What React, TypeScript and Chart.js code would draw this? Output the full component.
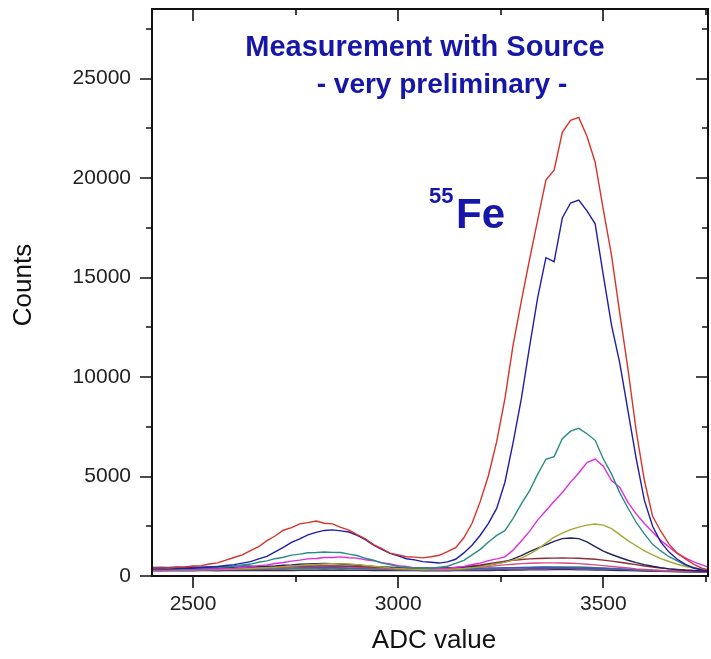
import React, { useEffect, useRef } from 'react';
import { Chart, registerables } from 'chart.js';

Chart.register(...registerables);

// ADC channel (x) values
const adc = [
  2400, 2420, 2440, 2460, 2480, 2500, 2520, 2540, 2560, 2580,
  2600, 2620, 2640, 2660, 2680, 2700, 2720, 2740, 2760, 2780,
  2800, 2820, 2840, 2860, 2880, 2900, 2920, 2940, 2960, 2980,
  3000, 3020, 3040, 3060, 3080, 3100, 3120, 3140, 3160, 3180,
  3200, 3220, 3240, 3260, 3280, 3300, 3320, 3340, 3360, 3380,
  3400, 3420, 3440, 3460, 3480, 3500, 3520, 3540, 3560, 3580,
  3600, 3620, 3640, 3660, 3680, 3700, 3720, 3740, 3760,
];

const redCounts = [
  380, 410, 390, 440, 450, 500, 520, 600, 660, 800,
  930, 1060, 1280, 1470, 1780, 2010, 2300, 2430, 2620, 2680,
  2760, 2650, 2620, 2440, 2310, 2080, 1870, 1580, 1370, 1150,
  1060, 970, 950, 910, 970, 1040, 1220, 1420, 1920, 2650,
  3750, 5050, 6750, 8900, 11600, 13800, 15900, 17900, 19900, 20400,
  22300, 22900, 23050, 22100, 20800, 18400, 16100, 13200, 10400, 7300,
  4800, 3000, 2250, 1600, 1150, 860, 590, 390, 290,
];

const blueCounts = [
  350, 370, 360, 380, 400, 390, 420, 450, 470, 530,
  570, 650, 720, 860, 990, 1210, 1440, 1690, 1870, 2070,
  2190, 2290, 2320, 2270, 2210, 2040, 1830, 1550, 1340, 1140,
  1010, 870, 810, 720, 690, 650, 710, 840, 1160, 1550,
  2050, 2650, 3400, 4700, 6700, 8900, 11500, 14000, 16000, 15800,
  18000, 18750, 18900, 18350, 17700, 15100, 12600, 10700, 8300, 5900,
  3800, 2500, 1700, 1200, 840, 590, 400, 300, 240,
];

const tealCounts = [
  330, 350, 330, 360, 350, 380, 370, 410, 420, 460,
  490, 550, 600, 690, 760, 870, 940, 1050, 1100, 1170,
  1180, 1210, 1190, 1180, 1100, 1030, 890, 790, 650, 570,
  470, 440, 390, 400, 390, 440, 490, 630, 790, 1060,
  1340, 1710, 2040, 2280, 2900, 3620, 4280, 5120, 5870, 6000,
  6900, 7280, 7420, 7150, 6820, 5880, 5120, 4180, 3420, 2690,
  2120, 1590, 1260, 970, 760, 550, 430, 320, 270,
];

const magentaCounts = [
  300, 310, 300, 320, 310, 330, 330, 350, 350, 380,
  390, 430, 460, 520, 560, 630, 680, 750, 800, 860,
  880, 930, 930, 960, 920, 900, 820, 770, 670, 610,
  520, 480, 410, 400, 360, 380, 380, 440, 480, 580,
  650, 770, 860, 960, 1300, 1760, 2240, 2820, 3280, 3760,
  4200, 4720, 5180, 5700, 5880, 5520, 4800, 4450, 3700, 3120,
  2640, 2210, 1790, 1460, 1140, 910, 710, 560, 420,
];

const oliveCounts = [
  280, 290, 290, 300, 300, 310, 310, 320, 330, 340,
  350, 360, 380, 400, 420, 440, 470, 500, 530, 560,
  580, 600, 620, 610, 600, 570, 530, 490, 450, 410,
  380, 360, 340, 330, 320, 320, 330, 350, 380, 420,
  470, 540, 620, 700, 800, 900, 1100, 1350, 1650, 1950,
  2150, 2330, 2460, 2560, 2610, 2560, 2380, 2080, 1780, 1520,
  1260, 1060, 870, 730, 590, 480, 400, 330, 280,
];

const navyCounts = [
  360, 370, 360, 380, 370, 390, 380, 400, 400, 420,
  420, 440, 450, 470, 490, 510, 540, 560, 590, 610,
  620, 630, 620, 600, 580, 550, 520, 480, 460, 440,
  420, 410, 400, 400, 390, 400, 400, 420, 440, 470,
  500, 560, 620, 700, 860, 1020, 1220, 1400, 1560, 1740,
  1880, 1910, 1880, 1720, 1480, 1250, 1080, 930, 790, 670,
  570, 490, 420, 360, 320, 290, 270, 250, 230,
];

const brownCounts = [
  380, 390, 380, 390, 390, 400, 400, 410, 410, 420,
  420, 430, 440, 450, 460, 470, 480, 490, 500, 500,
  510, 510, 500, 500, 490, 480, 460, 450, 440, 420,
  410, 400, 390, 390, 380, 390, 400, 420, 450, 500,
  550, 620, 680, 740, 790, 830, 860, 880, 890, 900,
  910, 900, 890, 870, 840, 800, 750, 690, 630, 570,
  500, 450, 400, 360, 330, 300, 280, 260, 250,
];

const pinkCounts = [
  300, 300, 310, 310, 320, 320, 330, 330, 340, 350,
  360, 370, 380, 400, 410, 430, 440, 460, 470, 480,
  490, 490, 490, 480, 470, 450, 430, 410, 390, 370,
  350, 340, 330, 320, 320, 330, 340, 360, 380, 410,
  440, 480, 520, 560, 590, 620, 640, 650, 660, 660,
  650, 640, 620, 590, 560, 520, 480, 440, 400, 360,
  330, 300, 280, 260, 250, 240, 230, 220, 210,
];

const steelCounts = [
  430, 440, 430, 450, 440, 450, 460, 470, 480, 490,
  500, 520, 500, 480, 470, 460, 450, 450, 440, 440,
  430, 430, 420, 420, 410, 400, 400, 390, 380, 380,
  370, 370, 360, 360, 350, 350, 360, 360, 370, 380,
  390, 400, 410, 420, 420, 430, 430, 440, 440, 430,
  430, 420, 410, 400, 390, 380, 360, 350, 330, 320,
  300, 290, 270, 260, 250, 240, 230, 220, 210,
];

const greenCounts = [
  320, 330, 320, 330, 330, 340, 330, 340, 340, 350,
  350, 350, 360, 360, 360, 370, 370, 380, 380, 380,
  390, 390, 380, 380, 370, 370, 360, 350, 340, 340,
  330, 320, 320, 310, 310, 310, 320, 320, 330, 340,
  350, 360, 380, 390, 410, 420, 430, 440, 450, 460,
  460, 460, 450, 440, 420, 400, 380, 360, 340, 320,
  300, 280, 270, 250, 240, 230, 220, 210, 200,
];

const purpleCounts = [
  280, 280, 290, 290, 290, 300, 300, 300, 310, 310,
  320, 320, 330, 330, 340, 350, 350, 360, 370, 370,
  380, 380, 380, 380, 370, 370, 360, 350, 340, 330,
  320, 310, 300, 300, 290, 290, 290, 300, 300, 310,
  310, 320, 330, 340, 350, 360, 370, 380, 380, 390,
  390, 390, 380, 380, 370, 360, 350, 330, 320, 300,
  290, 270, 260, 250, 240, 230, 220, 210, 200,
];

const darkCounts = [
  260, 270, 260, 260, 270, 260, 270, 270, 260, 270,
  270, 280, 270, 280, 280, 280, 290, 280, 290, 290,
  290, 300, 290, 300, 290, 290, 290, 280, 280, 280,
  270, 270, 270, 260, 260, 260, 260, 270, 270, 270,
  280, 280, 290, 290, 300, 300, 310, 310, 310, 320,
  320, 320, 310, 310, 300, 300, 290, 280, 270, 260,
  250, 240, 230, 220, 210, 200, 200, 190, 180,
];

const seriesList = [
  { label: 'run 1', color: '#d8322a', values: redCounts },
  { label: 'run 2', color: '#1e1ea8', values: blueCounts },
  { label: 'run 3', color: '#2a8c84', values: tealCounts },
  { label: 'run 4', color: '#e02ce0', values: magentaCounts },
  { label: 'run 5', color: '#a8a832', values: oliveCounts },
  { label: 'run 6', color: '#22225e', values: navyCounts },
  { label: 'run 7', color: '#8e2c3c', values: brownCounts },
  { label: 'run 8', color: '#d2508a', values: pinkCounts },
  { label: 'run 9', color: '#3a58c0', values: steelCounts },
  { label: 'run 10', color: '#4a7f70', values: greenCounts },
  { label: 'run 11', color: '#7a3aa8', values: purpleCounts },
  { label: 'run 12', color: '#333344', values: darkCounts },
];

const xTickValues = [2500, 3000, 3500];
const xMinorTickValues = [2750, 3250, 3750];
const yTickValues = [0, 5000, 10000, 15000, 20000, 25000];
const yMinorTickValues = [2500, 7500, 12500, 17500, 22500, 27500];

const titleLine1 = 'Measurement with Source';
const titleLine2 = '- very preliminary -';
const isotopeMass = '55';
const isotopeSymbol = 'Fe';
const xAxisTitle = 'ADC value';
const yAxisTitle = 'Counts';

const FONT = '"Liberation Sans", Arial, Helvetica, sans-serif';
const BLUE_TEXT = '#1616a8';

const framePlugin = {
  id: 'frameTicks',
  afterDatasetsDraw(chart: any) {
    const { ctx, chartArea, scales } = chart;
    const { left, right, top, bottom } = chartArea;
    const xs = scales.x;
    const ys = scales.y;
    ctx.save();
    ctx.strokeStyle = '#111';
    ctx.lineWidth = 2;
    ctx.beginPath();
    ctx.rect(left, top, right - left, bottom - top);
    ctx.stroke();
    ctx.lineWidth = 1.6;
    ctx.beginPath();
    const major = 12;
    const minor = 6;
    xTickValues.forEach((v) => {
      const px = Math.round(xs.getPixelForValue(v));
      ctx.moveTo(px, bottom);
      ctx.lineTo(px, bottom + major);
      ctx.moveTo(px, top);
      ctx.lineTo(px, top + major);
    });
    xMinorTickValues.forEach((v) => {
      const px = Math.round(xs.getPixelForValue(v));
      ctx.moveTo(px, bottom);
      ctx.lineTo(px, bottom + minor);
      ctx.moveTo(px, top);
      ctx.lineTo(px, top + minor);
    });
    yTickValues.forEach((v) => {
      const py = Math.round(ys.getPixelForValue(v));
      ctx.moveTo(left, py);
      ctx.lineTo(left - major, py);
      ctx.moveTo(right, py);
      ctx.lineTo(right - major, py);
    });
    yMinorTickValues.forEach((v) => {
      const py = Math.round(ys.getPixelForValue(v));
      ctx.moveTo(left, py);
      ctx.lineTo(left - minor, py);
      ctx.moveTo(right, py);
      ctx.lineTo(right - minor, py);
    });
    ctx.stroke();
    ctx.restore();
  },
  afterDraw(chart: any) {
    const { ctx } = chart;
    ctx.save();
    ctx.fillStyle = BLUE_TEXT;
    ctx.textBaseline = 'alphabetic';
    ctx.textAlign = 'center';
    ctx.font = `bold 29px ${FONT}`;
    ctx.fillText(titleLine1, 425, 56);
    ctx.font = `bold 28px ${FONT}`;
    ctx.fillText(titleLine2, 442, 93);
    ctx.textAlign = 'left';
    ctx.font = `bold 22px ${FONT}`;
    ctx.fillText(isotopeMass, 429, 203);
    ctx.font = `bold 42px ${FONT}`;
    ctx.fillText(isotopeSymbol, 456, 228);

    ctx.fillStyle = '#111';
    ctx.font = `26px ${FONT}`;
    ctx.textAlign = 'center';
    ctx.textBaseline = 'middle';
    ctx.fillText(xAxisTitle, 434, 641);
    ctx.translate(24, 285);
    ctx.rotate(-Math.PI / 2);
    ctx.fillText(yAxisTitle, 0, 0);
    ctx.restore();
  },
};

export default function App() {
  const canvasRef = useRef<HTMLCanvasElement | null>(null);

  useEffect(() => {
    if (!canvasRef.current) return;
    const datasets = seriesList.map((s) => ({
      label: s.label,
      data: adc.map((x, i) => ({ x, y: s.values[i] })),
      borderColor: s.color,
      backgroundColor: s.color,
      borderWidth: 1.4,
      pointRadius: 0,
      tension: 0,
      fill: false,
    }));
    const chart = new Chart(canvasRef.current, {
      type: 'line',
      data: { datasets },
      options: {
        animation: false,
        responsive: true,
        maintainAspectRatio: false,
        layout: { padding: { top: 9, right: 3, left: 0, bottom: 0 } },
        plugins: {
          legend: { display: false },
          tooltip: { enabled: false },
        },
        scales: {
          x: {
            type: 'linear',
            min: 2400,
            max: 3755,
            grid: { display: false, drawTicks: false },
            border: { display: false },
            afterBuildTicks: (scale: any) => {
              scale.ticks = xTickValues.map((v) => ({ value: v }));
            },
            afterFit: (scale: any) => {
              scale.height = 83;
              scale.paddingLeft = 0;
              scale.paddingRight = 0;
            },
            ticks: {
              autoSkip: false,
              maxRotation: 0,
              padding: 16,
              color: '#222',
              font: { family: FONT, size: 21 },
              callback: (v: any) => String(v),
            },
          },
          y: {
            type: 'linear',
            min: 0,
            max: 28500,
            grid: { display: false, drawTicks: false },
            border: { display: false },
            afterBuildTicks: (scale: any) => {
              scale.ticks = yTickValues.map((v) => ({ value: v }));
            },
            afterFit: (scale: any) => {
              scale.width = 152;
              scale.paddingTop = 0;
              scale.paddingBottom = 0;
            },
            ticks: {
              autoSkip: false,
              padding: 21,
              color: '#222',
              font: { family: FONT, size: 21 },
              callback: (v: any) => String(v),
            },
          },
        },
      },
      plugins: [framePlugin],
    });
    return () => chart.destroy();
  }, []);

  return (
    <div style={{ position: 'absolute', left: 0, top: 0, width: 711, height: 659, background: '#fff' }}>
      <canvas ref={canvasRef} />
    </div>
  );
}
